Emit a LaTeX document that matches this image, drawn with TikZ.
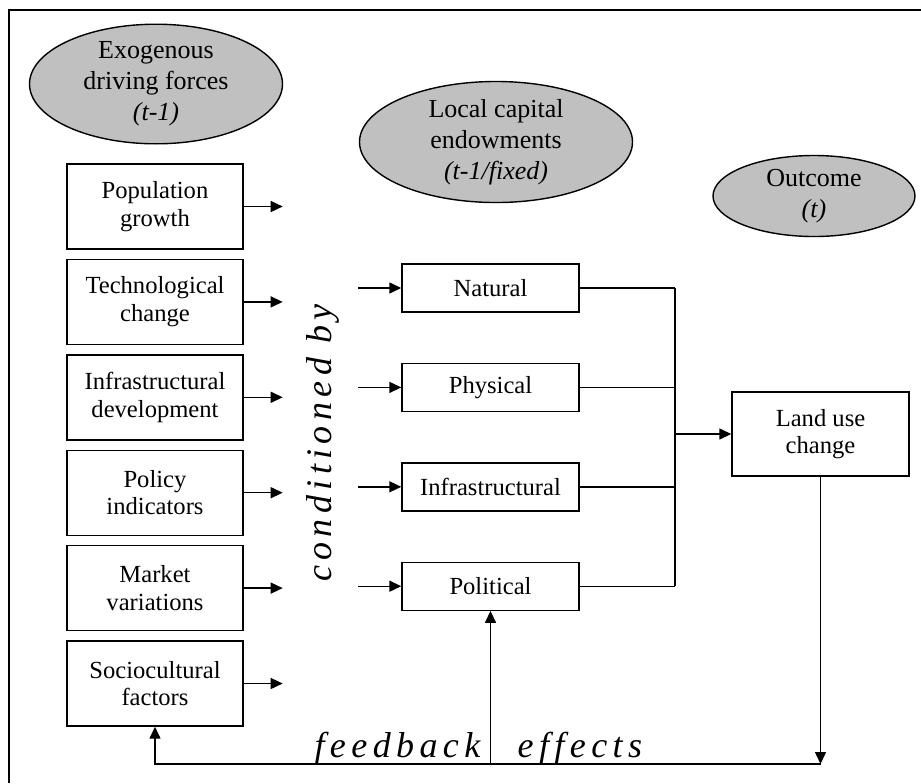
\documentclass[tikz,border=0pt]{standalone}
\usepackage{fontspec}
\setmainfont{Liberation Serif}
\newfontfamily\spacedit[LetterSpace=15]{Liberation Serif}
\usetikzlibrary{shapes.geometric,positioning,arrows.meta}
\definecolor{ovalgray}{RGB}{192,192,192}
\tikzset{
  oval/.style={ellipse,draw,fill=ovalgray,inner sep=0pt,align=center,
    font=\fontsize{13}{15.5}\selectfont},
  driverbox/.style={draw,minimum width=88pt,minimum height=42.5pt,inner sep=0pt,
    align=center,font=\fontsize{12.3}{13.8}\selectfont},
  capitalbox/.style={draw,minimum width=88.5pt,minimum height=24pt,inner sep=0pt,
    font=\fontsize{12.3}{13.8}\selectfont},
  arr/.style={-{Triangle[length=6pt,width=5.5pt]}},
  bigit/.style={font=\spacedit\itshape\fontsize{18}{20}\selectfont,inner sep=0pt}
}
\begin{document}
\begin{tikzpicture}[x=0.5pt,y=-0.5pt,line width=0.7pt]
    \useasboundingbox (0,0) rectangle (921,783);
    \draw (921,10) -- (9,10) -- (9,783);
    % ovals
    \node[oval,minimum width=126.5pt,minimum height=59pt] (exo) at (156,84)
        {Exogenous\\driving forces\\\textit{(t-1)}};
    \node[oval,minimum width=136.5pt,minimum height=54.5pt] (loc) at (496,142)
        {Local capital\\endowments\\\textit{(t-1/fixed)}};
    \node[oval,minimum width=101pt,minimum height=40.5pt] (out) at (814,196)
        {Outcome\\\textit{(t)}};
    % driving forces
    \node[driverbox] (pop) at (155,206.5) {Population\\growth};
    \node[driverbox,below=4.5pt of pop] (tech) {Technological\\change};
    \node[driverbox,below=4.5pt of tech] (infdev) {Infrastructural\\development};
    \node[driverbox,below=4.5pt of infdev] (pol) {Policy\\indicators};
    \node[driverbox,below=4.5pt of pol] (mkt) {Market\\variations};
    \node[driverbox,below=4.5pt of mkt] (soc) {Sociocultural\\factors};
    \foreach \n in {pop,tech,infdev,pol,mkt,soc}
        \draw[arr] (\n.east) -- ++(19.5pt,0);
    \node[bigit,rotate=90,anchor=base] (cond) at (331,443) {conditioned by};
    % capital endowments
    \node[capitalbox] (nat) at (490.5,288) {Natural};
    \node[capitalbox,below=25pt of nat] (phys) {Physical};
    \node[capitalbox,below=25pt of phys] (infra) {Infrastructural};
    \node[capitalbox,below=25pt of infra] (polit) {Political};
    \foreach \n in {nat,phys,infra,polit}
        \draw[arr] ([xshift=-21.5pt]\n.west) -- (\n.west);
    % outcome
    \node[capitalbox,minimum height=42pt,align=center] (land) at (820.5,434) {Land use\\change};
    \coordinate (bus) at (675,434);
    \foreach \n in {nat,phys,infra,polit}
        \draw (\n.east) -- (\n.east -| bus);
    \draw (nat.east -| bus) -- (polit.east -| bus);
    \draw[arr] (bus) -- (land.west);
    % feedback
    \coordinate (fb) at (0,764);
    \draw[arr] (land.south) -- (land.south |- fb);
    \draw[arr] (land.south |- fb) -- (soc.south |- fb) -- (soc.south);
    \draw[arr] (polit.south |- fb) -- (polit.south);
    \node[bigit,anchor=base east] (feed) at (481,757) {feedback};
    \node[bigit,anchor=base west] (eff) at (517,757) {effects};
\end{tikzpicture}
\end{document}
